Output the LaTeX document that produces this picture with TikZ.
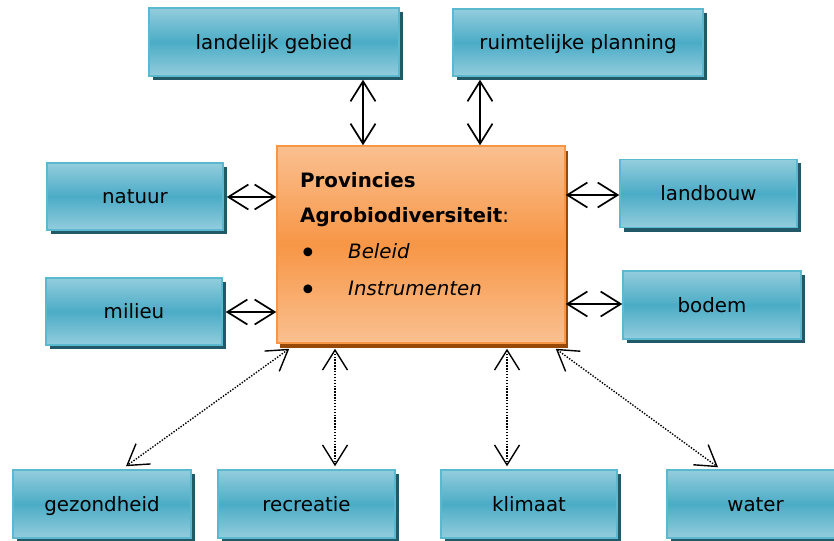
\documentclass[tikz,border=0pt]{standalone}
\usepackage{fontspec}
\setmainfont{DejaVu Sans}
\usetikzlibrary{arrows.meta,shadows,calc}
\definecolor{tealM}{HTML}{4BACC6}
\definecolor{tealL}{HTML}{93CDDD}
\definecolor{tealB}{HTML}{5AB8CF}
\definecolor{tealS}{HTML}{215968}
\definecolor{orM}{HTML}{F79646}
\definecolor{orL}{HTML}{FAC090}
\definecolor{orS}{HTML}{984807}
\begin{document}
\begin{tikzpicture}[x=1pt,y=-1pt,
  box/.style={draw=tealB, line width=1.5pt, top color=tealL, bottom color=tealL, middle color=tealM,
    general shadow={fill=tealS, shadow xshift=4pt, shadow yshift=-4pt},
    minimum height=68pt, minimum width=177pt, inner sep=0pt, text=black,
    text height=16pt, text depth=1.5pt,
    font=\fontsize{19.8}{23}\selectfont},
  cbox/.style={draw=orM, line width=1.5pt, top color=orL, bottom color=orL, middle color=orM,
    general shadow={fill=orS, shadow xshift=3pt, shadow yshift=-5pt},
    minimum width=288pt, minimum height=197pt, inner sep=0pt},
  ctext/.style={anchor=base west, inner sep=0pt, font=\fontsize{19.8}{23}\selectfont},
  tip/.tip={Straight Barb[length=20pt,width=25pt]},
  arr/.style={tip-tip, line width=1.7pt},
  darr/.style={tip-tip, line width=1.4pt, dash pattern=on 1.4pt off 1.5pt}
]
\useasboundingbox (0,0) rectangle (834,540);
\clip (0,0) rectangle (834,540);

\node[box, minimum width=250pt] (lg) at (274,42) {landelijk gebied};
\node[box, minimum width=250pt, minimum height=67pt] (rp) at (578,42.5) {ruimtelijke planning};
\node[box, minimum width=176pt, minimum height=67pt] (nat) at (135,196.5) {natuur};
\node[box, minimum width=176pt, minimum height=67pt] (mil) at (134,311.5) {milieu};
\node[box] (lb) at (708.5,193.5) {landbouw};
\node[box, minimum width=178pt] (bo) at (712,305) {bodem};
\node[box, minimum width=178pt] (gz) at (102,504) {gezondheid};
\node[box] (rec) at (306.5,504) {recreatie};
\node[box, minimum width=176pt] (kl) at (529,504) {klimaat};
\node[box] (wa) at (755.5,504) {water};

\node[cbox] (c) at (421,244.5) {};
\node[ctext] (t1) at (300,187) {\bfseries Provincies};
\node[ctext] (t2) at (300,222) {\textbf{Agrobiodiversiteit}:};
\node[ctext] (b1) at (299,263) {\fontsize{30}{30}\selectfont •};
\node[ctext] (t3) at (348,258) {\itshape Beleid};
\node[ctext] (b2) at (299,300) {\fontsize{30}{30}\selectfont •};
\node[ctext] (t4) at (348,295) {\itshape Instrumenten};

\coordinate (x1) at (363,0);
\coordinate (x2) at (480,0);
\coordinate (x3) at (335,0);
\coordinate (x4) at (507,0);
\coordinate (y1) at (0,197);
\coordinate (y2) at (0,312);
\coordinate (y3) at (0,195);
\coordinate (y4) at (0,304);

\draw[arr, shorten <=3pt] (lg.south -| x1) -- (c.north -| x1);
\draw[arr, shorten <=3pt] (rp.south -| x2) -- (c.north -| x2);
\draw[arr, shorten <=3pt] (nat.east |- y1) -- (c.west |- y1);
\draw[arr, shorten <=3pt] (mil.east |- y2) -- (c.west |- y2);
\draw[arr] (c.east |- y3) -- (lb.west |- y3);
\draw[arr] (c.east |- y4) -- (bo.west |- y4);

\draw[darr, shorten <=5pt, shorten >=3pt] (c.south -| x3) -- (rec.north -| x3);
\draw[darr, shorten <=5pt, shorten >=3pt] (c.south -| x4) -- (kl.north -| x4);
\draw[darr] ([shift={(13,5)}]c.south west) -- ([shift={(24,-3)}]gz.north);
\draw[darr] ([shift={(-10,5)}]c.south east) -- ([shift={(-37.5,-2)}]wa.north);
\end{tikzpicture}
\end{document}
